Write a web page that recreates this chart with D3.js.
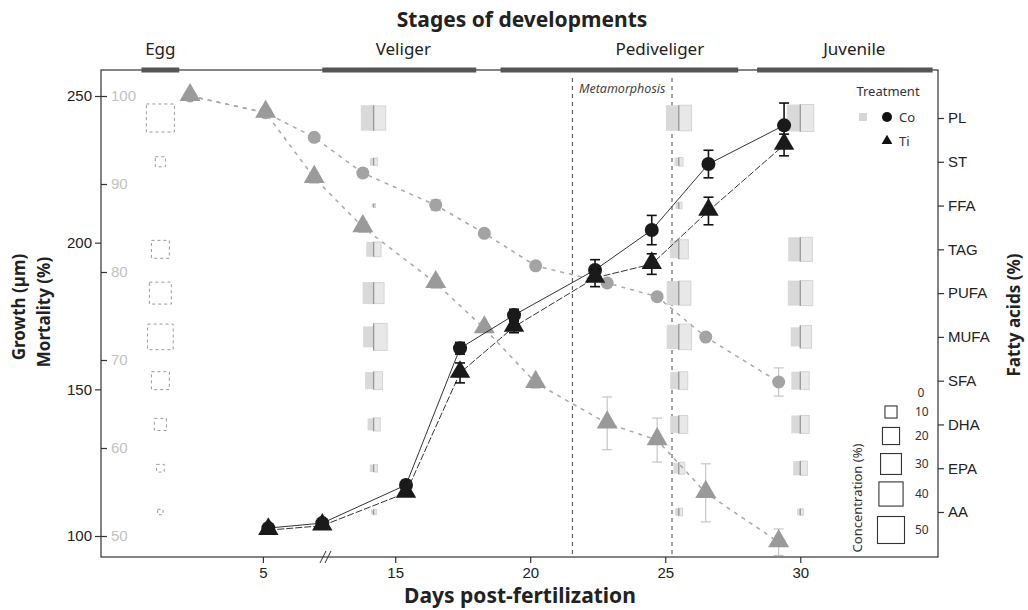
<!DOCTYPE html>
<html>
<head>
<meta charset="utf-8">
<script src="https://cdn.jsdelivr.net/npm/d3@7"></script>
<style>
  body { margin: 0; background: #fff; }
  svg { font-family: "Noto Sans", "Open Sans", sans-serif; }
</style>
</head>
<body>
<svg id="chart" width="1028" height="610"></svg>
<script>
// growth (um), black markers
var growthDays = [5.2, 7.2, 15.4, 17.4, 19.4, 22.4, 24.5, 26.6, 29.4];
var growthCo = [102.7, 104.4, 117.4, 164, 175.3, 190.7, 204.3, 226.8, 240];
var growthCoErr = [0, 0, 1.5, 2, 2, 3.5, 5, 4.7, 7.6];
var growthTi = [102, 103.5, 114.7, 155.6, 171.3, 188, 192.7, 210.8, 233.3];
var growthTiErr = [0, 0, 0, 3.4, 2, 3, 3.5, 4.7, 3.7];

// mortality (%), grey markers
var mortDays = [2.3, 5.1, 6.9, 13.8, 16.5, 18.3, 20.2, 22.85, 24.7, 26.5, 29.2];
var mortCo = [100, 98.1, 95.3, 91.25, 87.6, 84.4, 80.7, 78.75, 77.2, 72.6, 67.5];
var mortCoErr = [0, 0, 0.3, 0.5, 0.6, 0, 0, 0, 0, 0, 1.6];
var mortTi = [100, 98.1, 90.7, 85.1, 78.75, 73.6, 67.4, 62.8, 60.9, 54.9, 49.3];
var mortTiErr = [0, 0.5, 0.6, 0.6, 0.6, 0.4, 0.6, 3, 2.5, 3.3, 1.5];

// fatty acid composition glyphs
var fattyAcids = ["PL", "ST", "FFA", "TAG", "PUFA", "MUFA", "SFA", "DHA", "EPA", "AA"];
var eggDay = 1.2;
var eggConc = [54, 7, 0, 22, 33, 45, 22, 10, 4, 2];
var glyphDays = [14.2, 25.5, 30];
var faCo = [
  [45, 4, 1, 15, 33, 30, 20, 10, 4, 2],
  [45, 5, 3, 22, 40, 40, 20, 20, 8, 4],
  [50, 0, 0, 40, 43, 25, 22, 22, 14, 3]
];
var faTi = [
  [40, 4, 1, 15, 30, 50, 22, 12, 4, 2],
  [45, 5, 3, 25, 40, 45, 22, 22, 10, 4],
  [50, 0, 0, 40, 43, 35, 22, 22, 14, 3]
];
var concLegend = [10, 20, 30, 40, 50];

// stages
var stages = ["Egg", "Veliger", "Pediveliger", "Juvenile"];
var stageStart = [0.5, 7.2, 18.9, 28.4];
var stageEnd = [1.9, 18, 27.7, 34.9];
var stageLabelDay = [1.2, 15.3, 24.8, 32];
var metamorphosisDays = [21.56, 25.25];

var dayTicks = [5, 15, 20, 25, 30];
var growthTicks = [100, 150, 200, 250];
var mortTicks = [50, 60, 70, 80, 90, 100];

var svg = d3.select("#chart");
var L = 101, R = 938, T = 70, B = 557;

// broken day axis: 7.3 .. 12.4 is collapsed
var x = d3.scaleLinear().domain([-1, 7.3, 12.4, 35.1]).range([L, 325, 325, R]);
var yG = d3.scaleLinear().domain([100, 250]).range([536, 96]);
var yM = d3.scaleLinear().domain([50, 100]).range([536, 96]);
var yF = d3.scalePoint().domain(fattyAcids).range([118, 512]);
var side = d3.scaleSqrt().domain([0, 50]).range([0, 27]);

// frame
svg.append("rect").attr("x", L).attr("y", T).attr("width", R - L).attr("height", B - T)
  .attr("fill", "none").attr("stroke", "#333").attr("stroke-width", 1.2);

// stage bars on the top edge
stages.forEach(function (s, i) {
  svg.append("rect").attr("x", x(stageStart[i])).attr("y", T - 2.5)
    .attr("width", x(stageEnd[i]) - x(stageStart[i])).attr("height", 5)
    .attr("fill", "#555");
  svg.append("text").attr("x", x(stageLabelDay[i])).attr("y", 55)
    .attr("text-anchor", "middle").attr("font-size", 17).attr("fill", "#222").text(s);
});
svg.append("text").attr("x", 522).attr("y", 27).attr("text-anchor", "middle")
  .attr("font-size", 21).attr("font-weight", "bold").attr("fill", "#222")
  .text("Stages of developments");

// metamorphosis window
metamorphosisDays.forEach(function (d) {
  svg.append("line").attr("x1", x(d)).attr("x2", x(d)).attr("y1", 78).attr("y2", B)
    .attr("stroke", "#444").attr("stroke-width", 1).attr("stroke-dasharray", "4,4");
});
svg.append("text").attr("x", (x(metamorphosisDays[0]) + x(metamorphosisDays[1])) / 2).attr("y", 93)
  .attr("text-anchor", "middle").attr("font-size", 12.5).attr("font-style", "italic")
  .attr("fill", "#444").text("Metamorphosis");

// fatty acid glyphs
var egg = svg.append("g");
fattyAcids.forEach(function (fa, j) {
  var s = side(eggConc[j]);
  if (s <= 0) return;
  egg.append("rect").attr("x", x(eggDay) - s / 2).attr("y", yF(fa) - s / 2)
    .attr("width", s).attr("height", s).attr("fill", "none")
    .attr("stroke", "#999").attr("stroke-dasharray", "3,3");
});
glyphDays.forEach(function (d, i) {
  var cx = x(d);
  fattyAcids.forEach(function (fa, j) {
    var sc = side(faCo[i][j]), st = side(faTi[i][j]);
    if (sc <= 0 && st <= 0) return;
    var cy = yF(fa);
    svg.append("rect").attr("x", cx - sc / 2).attr("y", cy - sc / 2)
      .attr("width", sc / 2).attr("height", sc).attr("fill", "#d9d9d9");
    svg.append("rect").attr("x", cx).attr("y", cy - st / 2)
      .attr("width", st / 2).attr("height", st).attr("fill", "#e8e8e8")
      .attr("stroke", "#d4d4d4").attr("stroke-width", 1);
    svg.append("line").attr("x1", cx).attr("x2", cx)
      .attr("y1", cy - Math.max(sc, st) / 2).attr("y2", cy + Math.max(sc, st) / 2)
      .attr("stroke", "#999").attr("stroke-width", 1.3);
  });
});

// series helpers
function tri(size) { return d3.symbol().type(d3.symbolTriangle).size(size)(); }
function drawSeries(days, vals, errs, y, opt) {
  var pts = days.map(function (d, i) { return [x(d), y(vals[i]), errs[i]]; });
  svg.append("path").attr("d", d3.line()(pts.map(function (p) { return [p[0], p[1]]; })))
    .attr("fill", "none").attr("stroke", opt.line).attr("stroke-width", opt.lw)
    .attr("stroke-dasharray", opt.dash);
  var g = svg.append("g");
  pts.forEach(function (p, i) {
    if (errs[i] > 0) {
      var y1 = y(vals[i] + errs[i]), y2 = y(vals[i] - errs[i]);
      g.append("line").attr("x1", p[0]).attr("x2", p[0]).attr("y1", y1).attr("y2", y2)
        .attr("stroke", opt.err).attr("stroke-width", opt.ew);
      [y1, y2].forEach(function (yy) {
        g.append("line").attr("x1", p[0] - 5).attr("x2", p[0] + 5).attr("y1", yy).attr("y2", yy)
          .attr("stroke", opt.err).attr("stroke-width", opt.ew);
      });
    }
    if (opt.shape === "circle") {
      g.append("circle").attr("cx", p[0]).attr("cy", p[1]).attr("r", opt.r).attr("fill", opt.fill);
    } else {
      g.append("path").attr("d", tri(opt.size))
        .attr("transform", "translate(" + p[0] + "," + (p[1] - 1) + ")").attr("fill", opt.fill);
    }
  });
}

// mortality (grey, dashed)
drawSeries(mortDays, mortCo, mortCoErr, yM, { shape: "circle", r: 6.5, fill: "#a3a3a3",
  line: "#a8a8a8", lw: 1.5, dash: "4,5", err: "#bbb", ew: 1 });
drawSeries(mortDays, mortTi, mortTiErr, yM, { shape: "tri", size: 190, fill: "#9a9a9a",
  line: "#a8a8a8", lw: 1.5, dash: "4,5", err: "#bbb", ew: 1 });

// growth (black)
drawSeries(growthDays, growthCo, growthCoErr, yG, { shape: "circle", r: 7, fill: "#1a1a1a",
  line: "#333", lw: 1, dash: null, err: "#111", ew: 1.6 });
drawSeries(growthDays, growthTi, growthTiErr, yG, { shape: "tri", size: 180, fill: "#1a1a1a",
  line: "#333", lw: 1, dash: "7,2", err: "#111", ew: 1.6 });

// axes
function style(g, color) {
  g.select(".domain").remove();
  g.selectAll("line").attr("stroke", "#333").attr("stroke-width", 1.2);
  g.selectAll("text").attr("font-size", 15).attr("fill", color).attr("font-family", null);
}
svg.append("g").attr("transform", "translate(" + L + ",0)")
  .call(d3.axisLeft(yG).tickValues(growthTicks).tickSize(6).tickPadding(3))
  .call(style, "#222");
svg.append("g").attr("transform", "translate(" + L + ",0)")
  .call(d3.axisRight(yM).tickValues(mortTicks).tickSize(6).tickPadding(4))
  .call(style, "#c2c2c2");
svg.append("g").attr("transform", "translate(" + R + ",0)")
  .call(d3.axisRight(yF).tickSize(6).tickPadding(4))
  .call(style, "#222");
svg.append("g").attr("transform", "translate(0," + B + ")")
  .call(d3.axisBottom(x).tickValues(dayTicks).tickSize(6).tickPadding(4))
  .call(style, "#222");

// axis break marks
[0, 5].forEach(function (o) {
  svg.append("line").attr("x1", 320 + o).attr("y1", 563).attr("x2", 326 + o).attr("y2", 551)
    .attr("stroke", "#333").attr("stroke-width", 1);
});

// axis titles
svg.append("text").attr("transform", "translate(25,307) rotate(-90)").attr("text-anchor", "middle")
  .attr("font-size", 17).attr("font-weight", "bold").attr("fill", "#222").text("Growth (\u00b5m)");
svg.append("text").attr("transform", "translate(50,312) rotate(-90)").attr("text-anchor", "middle")
  .attr("font-size", 17).attr("font-weight", "bold").attr("fill", "#222").text("Mortality (%)");
svg.append("text").attr("transform", "translate(1020,315) rotate(-90)").attr("text-anchor", "middle")
  .attr("font-size", 17).attr("font-weight", "bold").attr("fill", "#222").text("Fatty acids (%)");
svg.append("text").attr("x", 520).attr("y", 603).attr("text-anchor", "middle")
  .attr("font-size", 21).attr("font-weight", "bold").attr("fill", "#222").text("Days post-fertilization");

// treatment legend
var lg = svg.append("g");
lg.append("text").attr("x", 888).attr("y", 96).attr("text-anchor", "middle")
  .attr("font-size", 13).attr("fill", "#333").text("Treatment");
lg.append("rect").attr("x", 859).attr("y", 113).attr("width", 8).attr("height", 8).attr("fill", "#d6d6d6");
lg.append("circle").attr("cx", 887).attr("cy", 117).attr("r", 5).attr("fill", "#111");
lg.append("text").attr("x", 899).attr("y", 122).attr("font-size", 13).attr("fill", "#333").text("Co");
lg.append("path").attr("d", tri(50)).attr("transform", "translate(887,141)").attr("fill", "#111");
lg.append("text").attr("x", 899).attr("y", 146).attr("font-size", 13).attr("fill", "#333").text("Ti");

// concentration legend
var cl = svg.append("g");
cl.append("text").attr("x", 921).attr("y", 397).attr("text-anchor", "middle")
  .attr("font-size", 12).attr("fill", "#333").text("0");
var ys = [412, 436, 464, 494, 530];
concLegend.forEach(function (c, i) {
  var s = side(c);
  cl.append("rect").attr("x", 891 - s / 2).attr("y", ys[i] - s / 2).attr("width", s).attr("height", s)
    .attr("fill", "none").attr("stroke", "#333").attr("stroke-width", 1.1);
  cl.append("text").attr("x", 915).attr("y", ys[i] + 4).attr("font-size", 12)
    .attr("fill", "#333").text(c);
});
cl.append("text").attr("transform", "translate(862,498) rotate(-90)").attr("text-anchor", "middle")
  .attr("font-size", 13).attr("fill", "#333").text("Concentration (%)");
</script>
</body>
</html>
